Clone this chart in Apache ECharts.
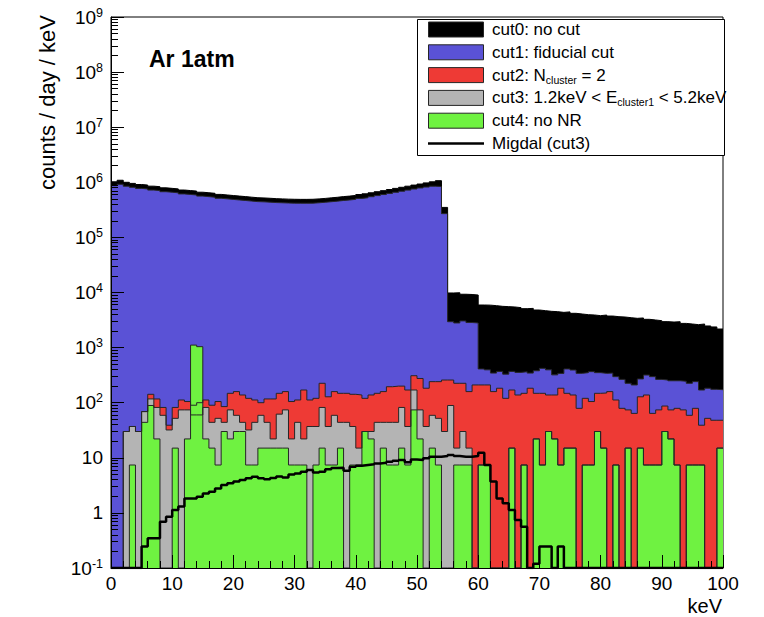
<!DOCTYPE html>
<html><head><meta charset="utf-8">
<script src="https://cdn.jsdelivr.net/npm/echarts@6/dist/echarts.min.js"></script>
<style>html,body{margin:0;padding:0;background:#fff}#c{width:764px;height:617px}</style>
</head><body><div id="c"></div>
<script>
// bin lower edges, 1 keV bins from 0 to 100 keV
const binLow = Array.from({length: 100}, (_, i) => i);
const xTicks = [0,10,20,30,40,50,60,70,80,90,100];

// cut0: no cut (black)
const cut0 = [
 1020000,1090000,1000000,955000,912000,891000,851000,832000,794000,776000,
 759000,724000,708000,692000,661000,646000,631000,603000,589000,575000,
 562000,550000,537000,525000,520000,513000,505000,500000,495000,492000,
 490000,490000,492000,500000,510000,522000,535000,550000,562000,578000,
 600000,618000,645000,675000,705000,740000,775000,812000,850000,890000,
 930000,975000,1020000,1070000,350000,9800,9900,9300,9200,9000,
 5930,5900,5770,5610,5540,5460,5310,5090,5150,4810,
 4680,4550,4490,4360,4450,4190,4070,3960,3910,3800,
 3900,3740,3640,3590,3490,3400,3450,3260,3170,3080,
 2960,2910,2950,2750,2680,2610,2680,2470,2370,2175];

// cut1: fiducial cut (blue)
const cut1 = [
 870000,920000,850000,812000,775000,757000,723000,707000,675000,660000,
 645000,615000,602000,588000,562000,549000,536000,513000,501000,489000,
 478000,468000,456000,446000,442000,436000,429000,425000,421000,418000,
 417000,417000,418000,425000,434000,444000,455000,468000,478000,491000,
 510000,525000,548000,574000,600000,629000,659000,690000,722000,756000,
 790000,820000,850000,840000,270000,2950,2800,3050,2850,2800,
 410,395,345,370,330,370,355,365,345,380,
 420,395,320,340,410,392,341,351,366,351,
 341,345,297,265,225,210,270,318,297,265,
 258,250,250,245,225,241,170,183,175,172];

// cut2: N_cluster = 2 (red)
const cut2 = [
 0.1,0.1,30,37,30,69,142,117,82,39,
 82,112,105,90,100,112,90,105,85,148,
 159,138,120,112,100,117,117,148,159,105,
 112,170,112,120,225,128,159,148,148,142,
 138,120,138,148,159,195,200,200,170,309,
 275,183,241,241,258,258,225,225,159,210,
 210,210,159,183,120,170,138,148,183,148,
 148,138,138,183,148,138,79,120,105,148,
 150,159,112,79,74,64,128,138,64,74,
 87,74,79,74,59,79,39,52,48,48];

// cut3: 1.2keV < E_cluster1 < 5.2keV (gray)
const cut3 = [
 0.1,0.1,30,37,30,69,117,82,59,32,
 52,74,74,60,60,82,44,52,44,74,
 59,44,32,44,59,44,22,62,74,22,
 44,22,37,37,82,37,59,44,44,37,
 15,30,30,44,44,44,44,82,37,170,
 74,37,59,52,30,89,15,30,15,0.1,
 7.4,7.4,0.1,0.1,0.1,15,0.1,7.4,0.1,22,
 7.4,30,22,7.4,15,15,0.1,7.4,7.4,30,
 15,0.1,7.4,0.1,15,0.1,15,7.4,7.4,7.4,
 30,22,7.4,0.1,7.4,7.4,7.4,0.1,0.1,15];

// cut4: no NR (green)
const cut4 = [
 0.1,0.1,0.1,7.4,0.1,44,89,22,0.1,0.1,
 15,0.1,22,1110,1040,22,15,7.4,30,22,
 30,30,7.4,7.4,15,15,15,15,15,7.4,
 7.4,7.4,0.1,7.4,15,7.4,7.4,15,0.1,7.4,
 7.4,30,22,0.1,15,7.4,7.4,15,7.4,74,
 22,0.1,15,7.4,0.1,0.1,7.4,7.4,7.4,0.1,
 7.4,7.4,0.1,0.1,0.1,15,0.1,7.4,0.1,22,
 7.4,30,22,7.4,15,15,0.1,7.4,7.4,30,
 15,0.1,7.4,0.1,15,0.1,15,7.4,7.4,7.4,
 30,22,7.4,0.1,7.4,7.4,7.4,0.1,0.1,15];

// Migdal (cut3), black line
const migdal = [
 0.1,0.1,0.1,0.1,0.1,0.245,0.345,0.345,0.69,0.85,
 1.13,1.3,1.83,1.83,1.97,2.26,2.42,2.78,3.2,3.44,
 3.7,3.95,4.24,4.55,4.24,4.1,4.3,4.6,4.4,5.0,
 5.2,5.6,6.0,5.4,5.6,6.2,6.5,6.6,5.8,6.9,
 7.2,7.4,7.6,7.9,8.1,8.5,8.8,9.1,8.3,9.3,
 9.1,9.8,10.5,10.5,10.8,11.2,10.8,10.5,10.5,10.8,
 12.3,7.4,3.7,1.83,1.5,1.13,0.74,0.56,0.1,0.12,
 0.245,0.245,0.1,0.245,0.1,0.1,0.1,0.1,0.1,0.1,
 0.1,0.1,0.1,0.1,0.1,0.1,0.1,0.1,0.1,0.1,
 0.1,0.1,0.1,0.1,0.1,0.1,0.1,0.1,0.1,0.1];

const FONT = '"Liberation Sans", Arial, Helvetica, sans-serif';
const colors = {c0:'#000000', c1:'#5a52d6', c2:'#ee3a35', c3:'#b4b4b4', c4:'#6ff241'};
const outline = '#262626';

function hist(vals) {
  const d = vals.map((v, i) => [binLow[i], v]);
  d.push([binLow[binLow.length - 1] + 1, vals[vals.length - 1]]);
  return d;
}
function histSeries(name, vals, fill, lineColor) {
  return {
    name: name, type: 'line', step: 'end', data: hist(vals),
    symbol: 'none', showSymbol: false, animation: false,
    lineStyle: {color: lineColor || outline, width: 1},
    areaStyle: {color: fill, opacity: 1, origin: 'start'}
  };
}

const chart = echarts.init(document.getElementById('c'), null, {renderer: 'svg'});

const legendRows = [
  {kind:'box', fill: colors.c0, text: 'cut0: no cut'},
  {kind:'box', fill: colors.c1, text: 'cut1: fiducial cut'},
  {kind:'box', fill: colors.c2, text: 'cut2: N{s|cluster} = 2'},
  {kind:'box', fill: colors.c3, text: 'cut3: 1.2keV < E{s|cluster1} < 5.2keV'},
  {kind:'box', fill: colors.c4, text: 'cut4: no NR'},
  {kind:'line', text: 'Migdal (cut3)'}
];
const legendEls = [{
  type: 'rect', shape: {x: 417.5, y: 19.5, width: 307, height: 136},
  style: {fill: '#fff', stroke: '#000', lineWidth: 1}
}];
legendRows.forEach((r, i) => {
  const cy = 29.5 + i * 22.8;
  if (r.kind === 'box') {
    legendEls.push({type: 'rect', shape: {x: 428.5, y: cy - 7.5, width: 55, height: 15},
      style: {fill: r.fill, stroke: outline, lineWidth: 1}});
  } else {
    legendEls.push({type: 'line', shape: {x1: 428, y1: cy, x2: 484, y2: cy},
      style: {stroke: '#000', lineWidth: 2.5}});
  }
  legendEls.push({type: 'text', x: 492, y: cy,
    style: {text: r.text, fill: '#000', fontSize: 17, fontFamily: FONT,
      align: 'left', verticalAlign: 'middle', lineHeight: 20,
      rich: {s: {fontSize: 10.5, fontFamily: FONT, lineHeight: 11, verticalAlign: 'bottom', fill: '#000'}}}});
});

const option = {
  backgroundColor: '#ffffff',
  animation: false,
  grid: {left: 111, right: 41, top: 17, bottom: 49, show: true, borderColor: '#000', borderWidth: 1, backgroundColor: 'transparent'},
  xAxis: {
    type: 'value', min: xTicks[0], max: xTicks[xTicks.length - 1], interval: 10, z: 10,
    axisLine: {show: true, onZero: false, lineStyle: {color: '#000', width: 1}},
    axisTick: {show: true, inside: true, length: 13, lineStyle: {color: '#000', width: 1}},
    minorTick: {show: true, splitNumber: 5, length: 7, lineStyle: {color: '#000', width: 1}},
    splitLine: {show: false},
    axisLabel: {fontSize: 19, color: '#000', fontFamily: FONT, margin: 6,
      formatter: v => String(v)}
  },
  yAxis: {
    type: 'log', logBase: 10, min: 0.1, max: 1e9, splitNumber: 10, z: 10,
    axisLine: {show: true, lineStyle: {color: '#000', width: 1}},
    axisTick: {show: true, inside: true, length: 13, lineStyle: {color: '#000', width: 1}},
    minorTick: {show: true, splitNumber: 9, length: 7, lineStyle: {color: '#000', width: 1}},
    splitLine: {show: false},
    axisLabel: {
      fontSize: 19, color: '#000', fontFamily: FONT, margin: 8, lineHeight: 22,
      formatter: function (v) {
        const e = Math.round(Math.log10(v));
        if (e === 0) return '1';
        if (e === 1) return '10';
        return '10{s|' + e + '}';
      },
      rich: {s: {fontSize: 12.5, fontFamily: FONT, color: '#000', lineHeight: 12, verticalAlign: 'top'}}
    }
  },
  series: [
    histSeries('cut0: no cut', cut0, colors.c0, '#000'),
    histSeries('cut1: fiducial cut', cut1, colors.c1),
    histSeries('cut2: N_cluster = 2', cut2, colors.c2),
    histSeries('cut3: 1.2keV < E_cluster1 < 5.2keV', cut3, colors.c3),
    histSeries('cut4: no NR', cut4, colors.c4),
    {name: 'Migdal (cut3)', type: 'line', step: 'end', data: hist(migdal), symbol: 'none',
      showSymbol: false, animation: false, lineStyle: {color: '#000', width: 2.5}}
  ],
  graphic: [
    {type: 'text', x: 47, y: 15, rotation: Math.PI / 2,
      style: {text: 'counts / day / keV', fill: '#000', fontSize: 22, fontFamily: FONT, align: 'right', verticalAlign: 'middle'}},
    {type: 'text', x: 722, y: 606,
      style: {text: 'keV', fill: '#000', fontSize: 20, fontFamily: FONT, align: 'right', verticalAlign: 'middle'}},
    {type: 'text', x: 149, y: 59,
      style: {text: 'Ar 1atm', fill: '#000', fontSize: 23, fontWeight: 'bold', fontFamily: FONT, align: 'left', verticalAlign: 'middle'}},
    {type: 'group', children: legendEls}
  ]
};
chart.setOption(option);
</script></body></html>
